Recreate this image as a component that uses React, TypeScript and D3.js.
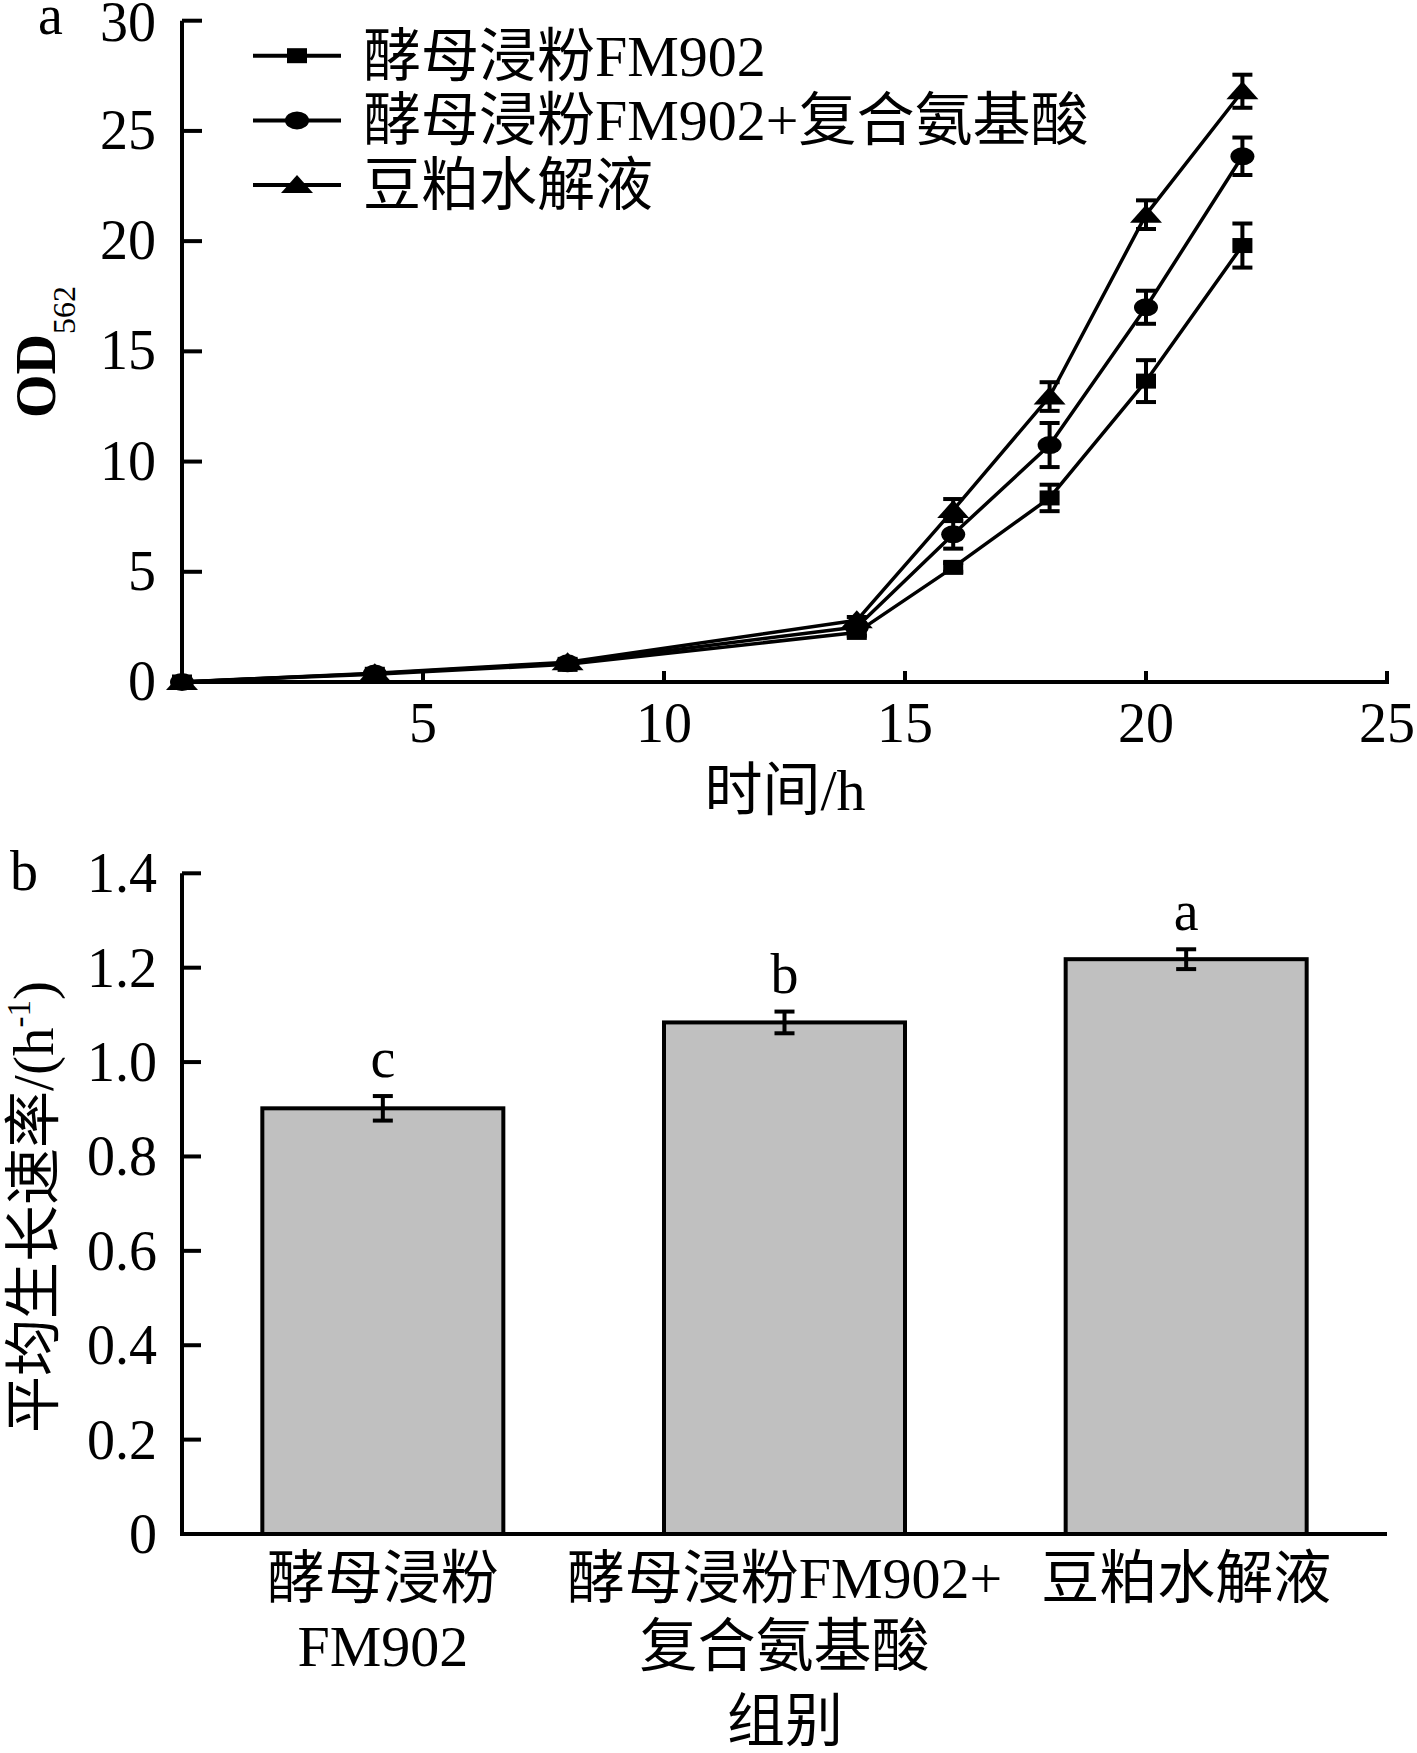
import { scaleLinear, scaleBand, line as d3line, curveLinear } from "d3";

const times = [0, 4, 8, 14, 16, 18, 20, 22];
const yeastOD = [0, 0.35, 0.8, 2.25, 5.2, 8.35, 13.65, 19.8];
const yeastErr = [0, 0.05, 0.05, 0.15, 0.2, 0.6, 0.95, 1.0];
const yeastAaOD = [0, 0.38, 0.85, 2.5, 6.7, 10.75, 17.0, 23.85];
const yeastAaErr = [0, 0.05, 0.05, 0.15, 0.65, 1.0, 0.75, 0.85];
const soyOD = [0, 0.4, 0.9, 2.8, 7.8, 12.95, 21.2, 26.8];
const soyErr = [0, 0.05, 0.05, 0.15, 0.5, 0.65, 0.65, 0.75];
const seriesNames = ["酵母浸粉FM902", "酵母浸粉FM902+复合氨基酸", "豆粕水解液"];
const timeTicks = [5, 10, 15, 20, 25];
const odTicks = [0, 5, 10, 15, 20, 25, 30];

const groups = ["g1", "g2", "g3"];
const groupLabels = [["酵母浸粉", "FM902"], ["酵母浸粉FM902+", "复合氨基酸"], ["豆粕水解液"]];
const rates = [0.902, 1.084, 1.218];
const rateErr = [0.026, 0.023, 0.021];
const sigLetters = ["c", "b", "a"];
const rateTicks = [0, 0.2, 0.4, 0.6, 0.8, 1.0, 1.2, 1.4];

const FONT = "'Liberation Serif', 'Times New Roman', 'Noto Sans CJK SC', serif";

type Shape = "square" | "circle" | "triangle";

function Marker({ shape, x, y }: { shape: Shape; x: number; y: number }) {
  if (shape === "square") return <rect x={x - 10} y={y - 7.5} width={20} height={15} fill="#000" />;
  if (shape === "circle") return <ellipse cx={x} cy={y} rx={12} ry={9} fill="#000" />;
  return <path d={`M${x - 16},${y + 8} L${x + 16},${y + 8} L${x},${y - 10} Z`} fill="#000" />;
}

export default function App() {
  // panel a
  const xA = scaleLinear().domain([0, 25]).range([182, 1387]);
  const yA = scaleLinear().domain([0, 30]).range([682, 20.7]);
  const series = [
    { name: seriesNames[0], values: yeastOD, errs: yeastErr, shape: "square" as Shape },
    { name: seriesNames[1], values: yeastAaOD, errs: yeastAaErr, shape: "circle" as Shape },
    { name: seriesNames[2], values: soyOD, errs: soyErr, shape: "triangle" as Shape },
  ];
  const line = d3line<number>()
    .x((_, i) => xA(times[i]))
    .y((d) => yA(d))
    .curve(curveLinear);

  // panel b
  const xB = scaleBand<string>().domain(groups).range([182, 1387]).paddingInner(0.4).paddingOuter(0.2);
  const yB = scaleLinear().domain([0, 1.4]).range([1534, 873.3]);

  return (
    <svg
      width={1417}
      height={1753}
      style={{ position: "absolute", left: 0, top: 0, background: "#fff" }}
      fontFamily={FONT}
    >
      <rect width={1417} height={1753} fill="#fff" />

      {/* ---------- a ---------- */}
      <text x={38} y={34} fontSize={56}>a</text>

      {series.map((s) => (
        <path key={s.name} d={line(s.values) ?? undefined} fill="none" stroke="#000" strokeWidth={3.5} strokeLinejoin="round" />
      ))}
      {series.map((s) =>
        s.values.map((v, i) => {
          const x = xA(times[i]);
          const y0 = yA(v - s.errs[i]);
          const y1 = yA(v + s.errs[i]);
          return (
            <g key={s.name + i} stroke="#000" strokeWidth={4}>
              <line x1={x} x2={x} y1={y0} y2={y1} />
              <line x1={x - 10} x2={x + 10} y1={y0} y2={y0} />
              <line x1={x - 10} x2={x + 10} y1={y1} y2={y1} />
            </g>
          );
        })
      )}
      {series.map((s) =>
        s.values.map((v, i) => <Marker key={s.name + "m" + i} shape={s.shape} x={xA(times[i])} y={yA(v)} />)
      )}

      {/* axes a */}
      <line x1={xA(0)} x2={xA(0)} y1={yA(30)} y2={yA(0) + 2} stroke="#000" strokeWidth={4} />
      <line x1={xA(0) - 2} x2={xA(25) + 2} y1={yA(0)} y2={yA(0)} stroke="#000" strokeWidth={4} />
      {odTicks.map((t) => (
        <g key={"yt" + t}>
          <line x1={xA(0)} x2={xA(0) + 20} y1={yA(t)} y2={yA(t)} stroke="#000" strokeWidth={4} />
          <text x={156} y={yA(t) + (t === 30 ? 20 : 18)} fontSize={56} textAnchor="end">{t}</text>
        </g>
      ))}
      {timeTicks.map((t) => (
        <g key={"xt" + t}>
          <line x1={xA(t)} x2={xA(t)} y1={yA(0)} y2={yA(0) - 11} stroke="#000" strokeWidth={4} />
          <text x={xA(t)} y={742} fontSize={56} textAnchor="middle">{t}</text>
        </g>
      ))}
      <text x={785} y={810} fontSize={58} textAnchor="middle">时间/h</text>
      <text transform={`translate(55,352) rotate(-90)`} textAnchor="middle" fontSize={56} fontWeight="bold">
        OD<tspan fontSize={32} fontWeight="normal" dy={20}>562</tspan>
      </text>

      {/* legend a */}
      {series.map((s, i) => {
        const ly = 55.7 + i * 64.7;
        return (
          <g key={"lg" + i}>
            <line x1={253} x2={341} y1={ly} y2={ly} stroke="#000" strokeWidth={4} />
            <Marker shape={s.shape} x={297} y={ly} />
            <text x={363} y={ly + 20} fontSize={58}>{s.name}</text>
          </g>
        );
      })}

      {/* ---------- b ---------- */}
      <text x={10} y={890} fontSize={56}>b</text>

      {groups.map((g, i) => {
        const x = xB(g) ?? 0;
        const w = xB.bandwidth();
        const cx = x + w / 2;
        const top = yB(rates[i] + rateErr[i]);
        const bot = yB(rates[i] - rateErr[i]);
        return (
          <g key={g}>
            <rect x={x} y={yB(rates[i])} width={w} height={yB(0) - yB(rates[i])} fill="#c0c0c0" stroke="#000" strokeWidth={4} />
            <g stroke="#000" strokeWidth={4}>
              <line x1={cx} x2={cx} y1={top} y2={bot} />
              <line x1={cx - 10} x2={cx + 10} y1={top} y2={top} />
              <line x1={cx - 10} x2={cx + 10} y1={bot} y2={bot} />
            </g>
            <text x={cx} y={top - 19} fontSize={56} textAnchor="middle">{sigLetters[i]}</text>
            {groupLabels[i].map((l, j) => (
              <text key={l} x={cx} y={1598 + j * 68} fontSize={58} textAnchor="middle">{l}</text>
            ))}
          </g>
        );
      })}

      {/* axes b */}
      <line x1={182} x2={182} y1={yB(1.4)} y2={yB(0) + 2} stroke="#000" strokeWidth={4} />
      <line x1={180} x2={1387} y1={yB(0)} y2={yB(0)} stroke="#000" strokeWidth={4} />
      {rateTicks.map((t) => (
        <g key={"rt" + t}>
          <line x1={182} x2={201} y1={yB(t)} y2={yB(t)} stroke="#000" strokeWidth={4} />
          <text x={157} y={yB(t) + 19} fontSize={56} textAnchor="end">{t === 0 ? "0" : t.toFixed(1)}</text>
        </g>
      ))}
      <text x={785} y={1741} fontSize={58} textAnchor="middle">组别</text>
      <text transform={`translate(53,1207) rotate(-90)`} textAnchor="middle" fontSize={57}>
        平均生长速率/(h<tspan fontSize={33} dy={-23}>-1</tspan><tspan dy={23}>)</tspan>
      </text>
    </svg>
  );
}
